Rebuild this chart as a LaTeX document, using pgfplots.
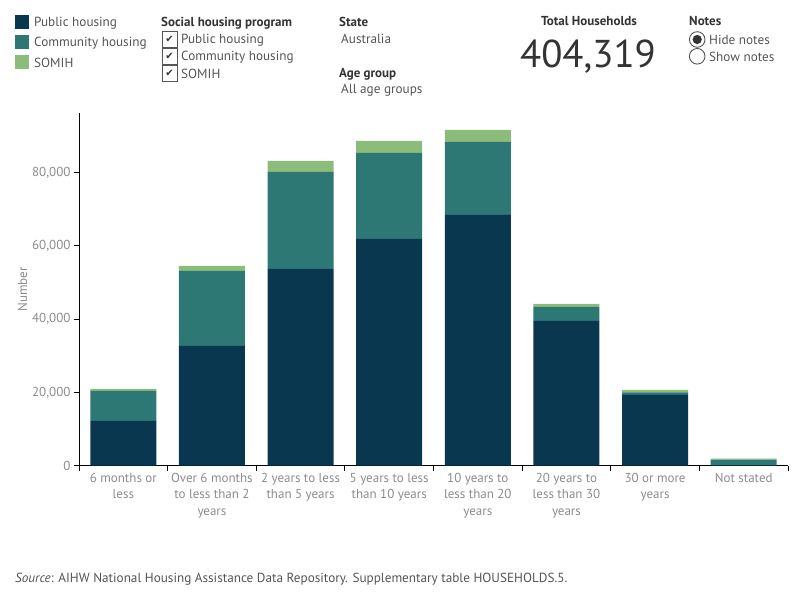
\documentclass[border=0pt]{standalone}
\usepackage{pgfplots}
\pgfplotsset{compat=1.18}
\usepackage{fontspec}
\setmainfont{PT Sans}
\newfontfamily\symfont{DejaVu Sans}

\definecolor{pubh}{HTML}{0A3750}
\definecolor{comh}{HTML}{2D7775}
\definecolor{somih}{HTML}{8CBC7A}
\definecolor{txt}{HTML}{555555}
\definecolor{head}{HTML}{333333}
\definecolor{lbl}{HTML}{8C8C8C}

\begin{document}
\begin{tikzpicture}[x=1pt,y=1pt]
\useasboundingbox (0,0) rectangle (800,600);

% ---- colour key ----
\fill[pubh]  (15,585) rectangle (29,571);
\fill[comh]  (15,565) rectangle (29,551);
\fill[somih] (15,545) rectangle (29,531);
\node[anchor=west,inner sep=0,text=txt,font=\fontsize{13.2}{15}\selectfont] at (34,576.5) {Public housing};
\node[anchor=west,inner sep=0,text=txt,font=\fontsize{13.2}{15}\selectfont] at (34,556.5) {Community housing};
\node[anchor=west,inner sep=0,text=txt,font=\fontsize{13.2}{15}\selectfont] at (34,537) {SOMIH};

% ---- program filter ----
\node[anchor=west,inner sep=0,text=head,font=\fontsize{13}{15}\selectfont\bfseries] at (161,576.5) {Social housing program};
\foreach \yy/\t in {560.5/Public housing, 543.5/Community housing, 526.5/SOMIH}{
  \draw[txt,line width=0.9] (162,\yy-8) rectangle (177.3,\yy+8);
  \node[inner sep=0,text=head,font=\symfont\fontsize{10}{12}\selectfont] at (169.6,\yy) {✔};
  \node[anchor=west,inner sep=0,text=txt,font=\fontsize{13.2}{15}\selectfont] at (181,\yy-0.8) {\t};
}

% ---- state / age group ----
\node[anchor=west,inner sep=0,text=head,font=\fontsize{13}{15}\selectfont\bfseries] at (339,578.5) {State};
\node[anchor=west,inner sep=0,text=txt,font=\fontsize{13.2}{15}\selectfont] at (341,561) {Australia};
\node[anchor=west,inner sep=0,text=head,font=\fontsize{13}{15}\selectfont\bfseries] at (339,526) {Age group};
\node[anchor=west,inner sep=0,text=txt,font=\fontsize{13.2}{15}\selectfont] at (341,509.5) {All age groups};

% ---- total ----
\node[inner sep=0,text=head,font=\fontsize{13}{15}\selectfont\bfseries] at (589,578.5) {Total Households};
\node[inner sep=0,text=head,font=\fontsize{38.8}{42}\selectfont] at (588,543) {404,319};

% ---- notes toggle ----
\node[anchor=west,inner sep=0,text=head,font=\fontsize{13}{15}\selectfont\bfseries] at (689,578.5) {Notes};
\draw[txt,line width=0.9] (697.2,560.5) circle (7.8);
\fill[head] (697.2,560.5) circle (4.6);
\draw[txt,line width=0.9] (697.2,543.7) circle (7.8);
\node[anchor=west,inner sep=0,text=txt,font=\fontsize{13.2}{15}\selectfont] at (709,560.5) {Hide notes};
\node[anchor=west,inner sep=0,text=txt,font=\fontsize{13.2}{15}\selectfont] at (709,543.5) {Show notes};

% ---- chart ----
\begin{axis}[
  at={(79pt,134.3pt)}, anchor=south west,
  scale only axis, width=709pt, height=352.7pt,
  xmin=-0.5, xmax=7.5, ymin=0, ymax=96200,
  ybar stacked, bar width=66pt,
  axis x line*=bottom, axis y line*=left,
  axis line style={black, line width=0.9pt},
  tick align=outside,
  xtick={0,...,7},
  xticklabels={{6 months or\\less},{Over 6 months\\to less than 2\\years},{2 years to less\\than 5 years},{5 years to less\\than 10 years},{10 years to\\less than 20\\years},{20 years to\\less than 30\\years},{30 or more\\years},{Not stated}},
  xticklabel style={align=center, text=lbl, font=\fontsize{13}{16.5}\selectfont, inner sep=1pt, yshift=-1pt},
  major x tick style={draw=none},
  minor xtick={-0.5,0.5,...,7.5},
  minor x tick style={black, line width=0.9pt},
  minor tick length=5pt,
  ytick={0,20000,40000,60000,80000},
  major y tick style={black, line width=0.9pt},
  major tick length=5pt,
  scaled y ticks=false,
  yticklabel style={text=lbl, font=\fontsize{13}{15}\selectfont, /pgf/number format/1000 sep={,}},
  /pgf/number format/assume math mode=true,
  ylabel={Number},
  every axis y label/.style={at={(rel axis cs:0,0.5)}, xshift=-56.3pt, rotate=90, anchor=center, text=lbl, font=\fontsize{13}{15}\selectfont},
  clip=false,
]
\addplot[fill=pubh, draw=none] coordinates {(0,12200) (1,32650) (2,53650) (3,61840) (4,68390) (5,39470) (6,19290) (7,60)};
\addplot[fill=comh, draw=none] coordinates {(0,8180) (1,20460) (2,26460) (3,23460) (4,19900) (5,3820) (6,730) (7,1580)};
\addplot[fill=somih, draw=none] coordinates {(0,540) (1,1360) (2,3000) (3,3280) (4,3280) (5,820) (6,630) (7,270)};
\end{axis}

% ---- source note ----
\node[anchor=west,inner sep=0,text=txt,font=\fontsize{13.2}{15}\selectfont] at (15,21) {\textit{Source}: AIHW National Housing Assistance Data Repository. Supplementary table HOUSEHOLDS.5.};
\end{tikzpicture}
\end{document}
